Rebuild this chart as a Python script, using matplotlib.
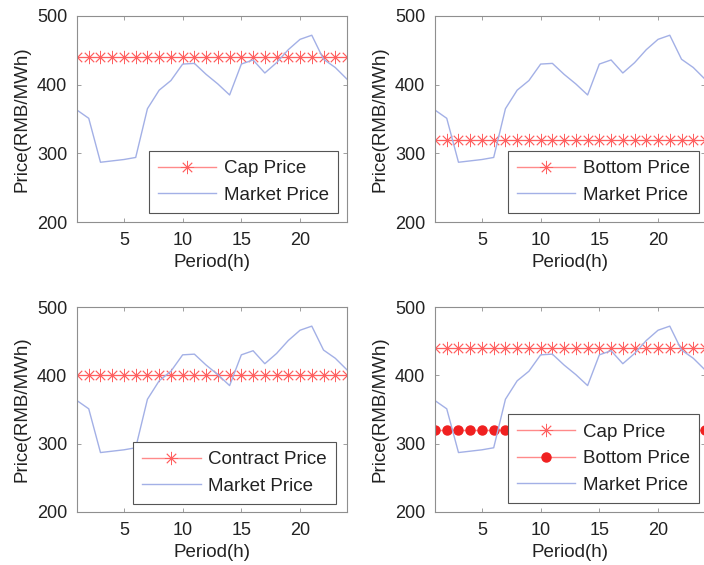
import numpy as np
import matplotlib
matplotlib.use("Agg")
import matplotlib.pyplot as plt

plt.rcParams['font.family'] = ['Liberation Sans', 'DejaVu Sans']

hours = list(range(1, 25))
market_price = [363, 351, 287, 289, 291, 294, 365, 392, 406, 430, 431, 415,
                401, 385, 430, 436, 417, 432, 451, 466, 472, 437, 425, 408]
cap_price = 440
bottom_price = 320
contract_price = 400

yticks = [200, 300, 400, 500]
xticks = [5, 10, 15, 20]
xlabel = "Period(h)"
ylabel = "Price(RMB/MWh)"

W, H = 704, 565
fig = plt.figure(figsize=(W / 100, H / 100), dpi=100)

def pos(l, r, t, b):
    return [l / W, 1 - b / H, (r - l) / W, (b - t) / H]

ax_pos = [pos(77, 347, 16, 222), pos(435, 705, 16, 222),
          pos(77, 347, 307, 512), pos(435, 705, 307, 512)]

FS_TICK = 13
FS_LAB = 13.5
FS_LEG = 13.5
red_line = '#ff8a8a'
red_mk = '#ff6060'
blue = '#a3b0e6'
spine_c = '#8f8f8f'
txt_c = '#222222'

def setup(ax):
    ax.set_xlim(1, 24)
    ax.set_ylim(200, 500)
    ax.set_xticks(xticks)
    ax.set_yticks(yticks)
    ax.tick_params(direction='in', length=3, width=0.6, color=spine_c,
                   labelsize=FS_TICK, top=True, right=True, pad=7,
                   labelcolor=txt_c)
    for s in ax.spines.values():
        s.set_color(spine_c)
        s.set_linewidth(0.8)
    ax.set_xlabel(xlabel, fontsize=FS_LAB, labelpad=4, color=txt_c)
    ax.set_ylabel(ylabel, fontsize=FS_LAB, labelpad=5, color=txt_c)

def star_line(ax, y, label):
    ax.plot(hours, [y] * len(hours), color=red_line, lw=1.0,
            marker=(8, 2, 0), ms=9.5, mec=red_mk, mfc=red_mk, mew=0.6,
            label=label)

def legend(ax, anchor):
    leg = ax.legend(loc='lower right', bbox_to_anchor=anchor, fontsize=FS_LEG,
                    frameon=True, fancybox=False, edgecolor='#555555',
                    framealpha=1, handlelength=3.1, handletextpad=0.4,
                    borderpad=0.5, labelspacing=0.5, borderaxespad=0)
    leg.get_frame().set_linewidth(0.8)
    for t in leg.get_texts():
        t.set_color(txt_c)

# top-left
ax = fig.add_axes(ax_pos[0])
star_line(ax, cap_price, 'Cap Price')
ax.plot(hours, market_price, color=blue, lw=1.0, label='Market Price')
setup(ax)
legend(ax, ((338 - 77) / 270, (222 - 213) / 206))

# top-right
ax = fig.add_axes(ax_pos[1])
star_line(ax, bottom_price, 'Bottom Price')
ax.plot(hours, market_price, color=blue, lw=1.0, label='Market Price')
setup(ax)
legend(ax, ((699 - 435) / 270, (222 - 213) / 206))

# bottom-left
ax = fig.add_axes(ax_pos[2])
star_line(ax, contract_price, 'Contract Price')
ax.plot(hours, market_price, color=blue, lw=1.0, label='Market Price')
setup(ax)
legend(ax, ((336 - 77) / 270, (512 - 504) / 205))

# bottom-right
ax = fig.add_axes(ax_pos[3])
star_line(ax, cap_price, 'Cap Price')
ax.plot(hours, [bottom_price] * len(hours), color=red_line, lw=1.0,
        marker='o', ms=6.5, mec='#f02020', mfc='#f02020', label='Bottom Price')
ax.plot(hours, market_price, color=blue, lw=1.0, label='Market Price')
setup(ax)
legend(ax, ((699 - 435) / 270, (512 - 503) / 205))

fig.savefig('out.png', dpi=100)
